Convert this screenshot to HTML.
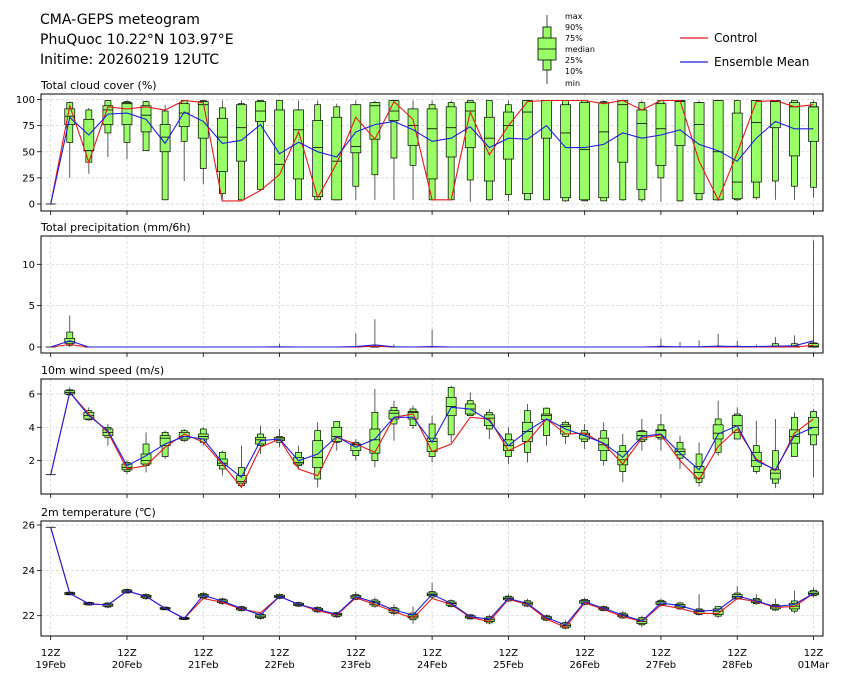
<!DOCTYPE html>
<html><head><meta charset="utf-8"><title>CMA-GEPS meteogram</title>
<style>
html,body{margin:0;padding:0;background:#fff;}
svg{display:block;font-family:"DejaVu Sans","Liberation Sans",sans-serif;}
</style></head>
<body>
<svg id="chart" width="841" height="680" viewBox="0 0 841 680" xmlns="http://www.w3.org/2000/svg">
<rect x="0" y="0" width="841" height="680" fill="#fff"/>
<g font-size="14" fill="#000">
<text x="40" y="24">CMA-GEPS meteogram</text>
<text x="40" y="44">PhuQuoc 10.22°N 103.97°E</text>
<text x="40" y="64">Initime: 20260219 12UTC</text>
</g>
<g>
<line x1="547" y1="15" x2="547" y2="84" stroke="#444" stroke-width="1"/>
<rect x="543" y="27" width="8" height="43" fill="#99ff66" stroke="#000" stroke-width="0.8"/>
<rect x="538" y="38" width="18" height="22" fill="#99ff66" stroke="#000" stroke-width="0.8"/>
<line x1="538" y1="49" x2="556" y2="49" stroke="#000" stroke-width="0.8"/>
<g font-size="8" fill="#000">
<text x="565" y="19">max</text><text x="565" y="30">90%</text><text x="565" y="41">75%</text>
<text x="565" y="52">median</text><text x="565" y="63">25%</text><text x="565" y="74">10%</text><text x="565" y="86">min</text>
</g>
</g>
<g font-size="12">
<g><line x1="680" y1="38" x2="708" y2="38" stroke="#e31a1c" stroke-width="1.2"/><text x="714" y="42">Control</text></g>
<g><line x1="680" y1="62" x2="708" y2="62" stroke="#1f1fdf" stroke-width="1.2"/><text x="714" y="66">Ensemble Mean</text></g>
</g>
<g id="panels"></g>
</svg>
<script>
// ---------- data (index 0 = 12Z 19Feb, 6-hourly steps) ----------
const xTickLabels1 = ["12Z","12Z","12Z","12Z","12Z","12Z","12Z","12Z","12Z","12Z","12Z"];
const xTickLabels2 = ["19Feb","20Feb","21Feb","22Feb","23Feb","24Feb","25Feb","26Feb","27Feb","28Feb","01Mar"];

const cloudMax = [0,98,92,99,99,99,95,99,99,99,99,99,99,99,99,96,99,99,99,99,99,99,99,99,99,99,99,99,99,99,99,99,99,99,99,99,99,99,99,99,99];
const cloudP90 = [0,97,90,99,98,98,89,99,99,92,96,99,99,90,95,93,95,97,99,91,95,97,99,99,95,99,99,99,99,98,99,97,99,99,97,99,99,99,99,99,97];
const cloudP75 = [0,91,81,94,97,94,76,96,98,82,95,98,90,90,80,83,95,97,99,91,91,93,97,83,88,99,99,95,97,97,99,90,96,99,97,99,87,99,99,97,93];
const cloudMed = [0,84,51,90,96,85,64,87,95,64,73,89,38,71,54,41,55,94,89,75,72,73,89,63,75,88,99,68,52,69,95,77,72,98,76,50,21,78,98,93,93];
const cloudP25 = [0,76,51,76,76,69,50,74,63,31,41,79,4,24,7,4,49,62,80,56,24,45,54,22,43,10,63,6,4,6,40,14,37,56,10,4,5,21,73,46,60];
const cloudP10 = [0,59,40,68,59,51,4,60,34,10,4,14,4,4,4,4,17,28,44,37,4,4,23,4,9,4,4,3,3,3,4,4,25,3,4,4,4,6,22,17,16];
const cloudMin = [0,25,29,45,43,51,4,22,19,4,4,14,4,4,4,4,4,4,4,4,4,4,2,3,3,4,4,2,3,3,3,2,2,2,4,3,3,4,4,4,6];
const cloudCtrl = [0,94,40,93,91,93,90,99,97,3,3,13,28,69,6,39,83,62,98,81,4,4,88,47,75,98,99,99,99,96,99,90,99,99,41,4,49,98,99,93,95];
const cloudMean = [0,83,66,86,87,81,58,88,79,58,61,76,48,59,50,45,69,76,79,71,60,63,74,54,63,62,75,54,54,57,68,63,66,71,57,51,41,63,79,72,72];

const precMax = [0,3.8,0,0,0,0,0,0,0,0,0,0,0.4,0,0,0,1.65,3.35,0.3,0,2.1,0,0,0,0,0,0,0,0,0,0,0,1.0,0.6,0.8,1.6,0.75,0.3,1.2,1.4,12.9];
const precP90 = [0,1.8,0,0,0,0,0,0,0,0,0,0,0,0,0,0,0,0.1,0,0,0,0,0,0,0,0,0,0,0,0,0,0,0.1,0,0,0.1,0.1,0,0.4,0.4,0.5];
const precP75 = [0,1.05,0,0,0,0,0,0,0,0,0,0,0,0,0,0,0,0,0,0,0,0,0,0,0,0,0,0,0,0,0,0,0,0,0,0,0,0,0.1,0.1,0.4];
const precMed = [0,0.65,0,0,0,0,0,0,0,0,0,0,0,0,0,0,0,0,0,0,0,0,0,0,0,0,0,0,0,0,0,0,0,0,0,0,0,0,0,0,0.1];
const precP25 = [0,0.45,0,0,0,0,0,0,0,0,0,0,0,0,0,0,0,0,0,0,0,0,0,0,0,0,0,0,0,0,0,0,0,0,0,0,0,0,0,0,0];
const precP10 = [0,0.2,0,0,0,0,0,0,0,0,0,0,0,0,0,0,0,0,0,0,0,0,0,0,0,0,0,0,0,0,0,0,0,0,0,0,0,0,0,0,0];
const precMin = [0,0,0,0,0,0,0,0,0,0,0,0,0,0,0,0,0,0,0,0,0,0,0,0,0,0,0,0,0,0,0,0,0,0,0,0,0,0,0,0,0];
const precCtrl = [0,0.3,0,0,0,0,0,0,0,0,0,0,0,0,0,0,0,0.1,0,0,0,0,0,0,0,0,0,0,0,0,0,0,0,0,0,0,0,0,0,0,0.2];
const precMean = [0,0.75,0,0,0,0,0,0,0,0,0,0,0.03,0,0,0,0.05,0.25,0.02,0,0.05,0,0,0,0,0,0,0,0,0,0,0,0.05,0.02,0.03,0.1,0.05,0.05,0.1,0.15,0.75];

const windMin = [1.16,5.9,4.4,2.9,1.2,1.3,2.1,3.1,2.9,1.1,0.35,2.4,2.8,1.5,0.4,2.6,2.0,1.6,3.2,3.9,1.9,3.1,4.7,3.3,1.8,1.9,2.9,3.0,2.7,1.7,0.7,2.6,2.6,1.5,0.45,2.3,3.3,1.2,0.35,2.25,1.0];
const windP10 = [1.16,5.95,4.45,3.4,1.35,1.7,2.25,3.2,3.1,1.5,0.5,2.9,3.1,1.7,0.9,3.1,2.3,2.0,4.2,4.1,2.25,3.55,4.7,3.9,2.25,2.5,3.5,3.45,3.15,2.0,1.35,3.15,3.3,2.15,0.7,2.5,3.3,1.35,0.65,2.25,2.95];
const windP25 = [1.16,6.0,4.5,3.5,1.45,1.8,2.9,3.3,3.3,1.7,0.65,3.0,3.2,1.8,1.6,3.15,2.6,2.45,4.5,4.5,2.55,4.7,4.8,4.1,2.6,3.15,4.45,3.6,3.3,2.6,1.75,3.25,3.4,2.35,0.95,3.3,3.7,1.65,0.9,3.05,3.55];
const windMed = [1.16,6.1,4.7,3.7,1.6,2.0,3.35,3.45,3.45,1.85,0.75,3.25,3.3,1.9,2.2,3.45,2.95,3.25,4.85,4.9,3.15,5.25,5.1,4.55,2.9,3.75,4.7,4.05,3.55,2.95,2.05,3.5,3.8,2.55,1.3,3.65,4.1,2.0,1.25,3.45,4.0];
const windP75 = [1.16,6.2,4.9,3.9,1.8,2.4,3.5,3.7,3.6,2.1,1.1,3.4,3.4,2.2,3.2,4.0,3.0,3.9,5.0,4.95,3.35,5.8,5.4,4.75,3.25,4.3,4.8,4.15,3.65,3.35,2.55,3.75,3.85,2.7,1.65,4.15,4.7,2.5,1.45,3.85,4.6];
const windP90 = [1.16,6.25,5.0,4.0,1.9,3.0,3.7,3.8,3.9,2.5,1.6,3.6,3.45,2.5,3.8,4.35,3.1,4.9,5.2,5.1,4.2,6.4,5.6,4.9,3.6,5.0,5.15,4.3,3.8,3.8,2.9,3.8,4.15,3.1,2.4,4.5,4.8,2.9,2.6,4.6,4.95];
const windMax = [1.16,6.4,5.2,4.2,2.0,3.7,3.8,3.9,4.0,2.6,2.9,4.1,3.9,2.9,4.3,4.35,3.3,6.3,5.6,5.3,4.7,6.5,6.1,5.1,4.0,5.4,5.2,4.4,4.2,4.3,3.6,4.5,4.8,3.5,3.1,5.6,5.2,4.4,4.5,4.9,5.1];
const windCtrl = [1.16,6.1,4.8,3.7,1.5,1.7,2.8,3.6,3.1,1.8,0.4,2.8,3.3,1.5,1.1,3.4,3.0,2.5,4.6,4.8,2.55,3.0,4.6,4.5,2.6,3.15,4.5,3.6,3.65,3.0,1.8,3.35,3.55,2.0,0.85,2.85,3.9,2.1,1.4,3.65,4.5];
const windMean = [1.16,6.1,4.7,3.8,1.7,2.3,3.0,3.45,3.3,1.9,1.0,3.2,3.3,2.0,2.4,3.45,2.8,3.3,4.6,4.6,3.1,5.2,5.1,4.4,2.9,3.8,4.5,3.9,3.5,3.05,2.2,3.45,3.6,2.45,1.45,3.6,4.1,2.0,1.45,3.5,4.0];

const tempMin = [25.9,22.9,22.45,22.33,22.98,22.7,22.24,21.8,22.72,22.48,22.18,21.82,22.72,22.38,22.12,21.9,22.68,22.35,22.0,21.65,22.78,22.36,21.82,21.62,22.6,22.38,21.76,21.4,22.46,22.2,21.86,21.5,22.4,22.25,22.0,21.9,22.7,22.48,22.2,22.12,22.8];
const tempP10 = [25.9,22.92,22.47,22.38,23.0,22.75,22.26,21.83,22.78,22.54,22.22,21.88,22.76,22.42,22.17,21.95,22.72,22.42,22.1,21.82,22.82,22.4,21.86,21.68,22.65,22.42,21.8,21.45,22.5,22.22,21.9,21.6,22.45,22.3,22.05,21.98,22.74,22.53,22.25,22.2,22.88];
const tempP25 = [25.9,22.94,22.49,22.42,23.03,22.79,22.28,21.85,22.82,22.58,22.26,21.92,22.8,22.45,22.21,21.99,22.77,22.48,22.15,21.9,22.88,22.46,21.9,21.74,22.7,22.47,21.85,21.5,22.55,22.26,21.95,21.65,22.5,22.35,22.1,22.05,22.78,22.58,22.3,22.3,22.92];
const tempMed = [25.9,22.98,22.53,22.47,23.08,22.85,22.32,21.88,22.88,22.64,22.31,21.98,22.85,22.5,22.27,22.05,22.83,22.57,22.23,21.98,22.94,22.54,21.95,21.82,22.76,22.53,21.9,21.57,22.61,22.31,22.01,21.74,22.56,22.42,22.18,22.2,22.85,22.64,22.38,22.42,22.98];
const tempP75 = [25.9,23.02,22.57,22.52,23.13,22.9,22.36,21.91,22.94,22.7,22.36,22.04,22.9,22.55,22.33,22.1,22.89,22.64,22.3,22.05,23.0,22.6,22.0,21.9,22.82,22.6,21.96,21.64,22.67,22.36,22.07,21.85,22.62,22.5,22.25,22.3,22.93,22.7,22.45,22.55,23.05];
const tempP90 = [25.9,23.04,22.59,22.56,23.16,22.94,22.38,21.93,22.98,22.74,22.4,22.08,22.94,22.58,22.37,22.14,22.93,22.7,22.36,22.12,23.06,22.66,22.04,21.96,22.86,22.66,22.0,21.7,22.72,22.4,22.12,21.92,22.68,22.56,22.3,22.4,23.0,22.76,22.5,22.65,23.12];
const tempMax = [25.9,23.06,22.62,22.6,23.2,23.0,22.4,21.95,23.05,22.8,22.44,22.12,22.98,22.62,22.42,22.18,23.05,22.8,22.5,22.4,23.45,22.72,22.08,22.05,22.95,22.75,22.05,21.8,22.8,22.45,22.2,22.0,22.75,22.62,22.95,22.4,23.3,22.95,22.75,23.1,23.25];
const tempCtrl = [25.9,22.98,22.53,22.47,23.09,22.85,22.32,21.88,22.76,22.59,22.29,22.13,22.85,22.5,22.22,22.03,22.79,22.5,22.18,21.88,22.76,22.5,21.93,21.74,22.72,22.5,21.85,21.49,22.57,22.28,21.96,21.74,22.47,22.32,22.1,22.1,22.76,22.62,22.37,22.4,22.98];
const tempMean = [25.9,22.98,22.53,22.47,23.09,22.85,22.32,21.88,22.9,22.65,22.32,22.03,22.85,22.5,22.28,22.06,22.84,22.59,22.25,22.03,22.94,22.54,21.96,21.84,22.76,22.54,21.91,21.59,22.62,22.32,22.03,21.76,22.57,22.44,22.2,22.25,22.87,22.65,22.4,22.5,22.98];

const cloudTicks = [0,25,50,75,100];
const precTicks = [0,5,10];
const windTicks = [2,4,6];
const tempTicks = [22,24,26];

// ---------- rendering ----------
const NS = "http://www.w3.org/2000/svg";
const root = document.getElementById("panels");
const X0 = 50.7, DX = 19.07, LEFT = 41, RIGHT = 823;
function xAt(i){ return X0 + DX * i; }
function mk(tag, attrs, parent){
  const e = document.createElementNS(NS, tag);
  for (const k in attrs) e.setAttribute(k, attrs[k]);
  (parent || root).appendChild(e);
  return e;
}
function linScale(v0, p0, v1, p1){ return v => p0 + (v - v0) * (p1 - p0) / (v1 - v0); }

const panels = [
  {name:"cloud", title:"Total cloud cover (%)", top:94, bottom:211, y:linScale(0,204,100,99.5), ticks:cloudTicks,
   s:[cloudMin,cloudP10,cloudP25,cloudMed,cloudP75,cloudP90,cloudMax], ctrl:cloudCtrl, mean:cloudMean},
  {name:"precipitation", title:"Total precipitation (mm/6h)", top:236, bottom:353, y:linScale(0,347,10,264.3), ticks:precTicks,
   s:[precMin,precP10,precP25,precMed,precP75,precP90,precMax], ctrl:precCtrl, mean:precMean},
  {name:"wind", title:"10m wind speed (m/s)", top:379, bottom:494, y:linScale(0,494,6,394), ticks:windTicks,
   s:[windMin,windP10,windP25,windMed,windP75,windP90,windMax], ctrl:windCtrl, mean:windMean},
  {name:"temperature", title:"2m temperature (\u2103)", top:521, bottom:636, y:linScale(22,615.7,26,525), ticks:tempTicks,
   s:[tempMin,tempP10,tempP25,tempMed,tempP75,tempP90,tempMax], ctrl:tempCtrl, mean:tempMean}
];

panels.forEach((p, pi) => {
  const g = mk("g", {});
  
  
  const t = mk("text", {x:LEFT, y:p.top - 5, "font-size":11, fill:"#000"}, g);
  t.textContent = p.title;
  
  
  // grid
  for (let d = 0; d <= 10; d++){
    const x = xAt(d*4);
    const gl = mk("line", {x1:x, x2:x, y1:p.top, y2:p.bottom, stroke:"#d3d3d3", "stroke-width":0.7, "stroke-dasharray":"3,2"}, g);
    
    
    const tk = mk("line", {x1:x, x2:x, y1:p.bottom, y2:p.bottom+4, stroke:"#000", "stroke-width":0.8}, g);
    
    
  }
  p.ticks.forEach(v => {
    const y = p.y(v);
    const gl = mk("line", {x1:LEFT, x2:RIGHT, y1:y, y2:y, stroke:"#d3d3d3", "stroke-width":0.7, "stroke-dasharray":"3,2"}, g);
    
    
    mk("line", {x1:LEFT-4, x2:LEFT, y1:y, y2:y, stroke:"#000", "stroke-width":0.8}, g);
    const tl = mk("text", {x:LEFT-6, y:y+3.5, "font-size":10, "text-anchor":"end", fill:"#000"}, g);
    tl.textContent = v;
    
    
  });
  // boxes
  const n = p.s[0].length;
  for (let i = 0; i < n; i++){
    const x = xAt(i);
    const [mn,p10,p25,md,p75,p90,mx] = p.s.map(a => p.y(a[i]));
    const bg = mk("g", {}, g);
    
    
    mk("line", {x1:x, x2:x, y1:mx, y2:mn, stroke:"#333", "stroke-width":0.8}, bg);
    mk("rect", {x:x-3, y:p90, width:6, height:Math.max(0,p10-p90), fill:"#99ff66", stroke:"#000", "stroke-width":0.7}, bg);
    mk("rect", {x:x-5, y:p75, width:10, height:Math.max(0,p25-p75), fill:"#99ff66", stroke:"#000", "stroke-width":0.7}, bg);
    mk("line", {x1:x-5, x2:x+5, y1:md, y2:md, stroke:"#000", "stroke-width":0.8}, bg);
  }
  // lines
  const path = arr => arr.map((v,i) => (i?"L":"M") + xAt(i).toFixed(1) + "," + p.y(v).toFixed(1)).join("");
  const cl = mk("path", {d:path(p.ctrl), fill:"none", stroke:"#e31a1c", "stroke-width":1.1}, g);
  
  
  const ml = mk("path", {d:path(p.mean), fill:"none", stroke:"#1f1fdf", "stroke-width":1.1}, g);
  
  
  // frame
  const fr = mk("rect", {x:LEFT, y:p.top, width:RIGHT-LEFT, height:p.bottom-p.top, fill:"none", stroke:"#000", "stroke-width":1}, g);
  
  
});

// x tick labels
for (let d = 0; d <= 10; d++){
  const x = xAt(d*4);
  const t1 = mk("text", {x:x, y:656, "font-size":10, "text-anchor":"middle"});
  t1.textContent = xTickLabels1[d];
  
  
  const t2 = mk("text", {x:x, y:668, "font-size":10, "text-anchor":"middle"});
  t2.textContent = xTickLabels2[d];
  
  
}
</script>
</body></html>
